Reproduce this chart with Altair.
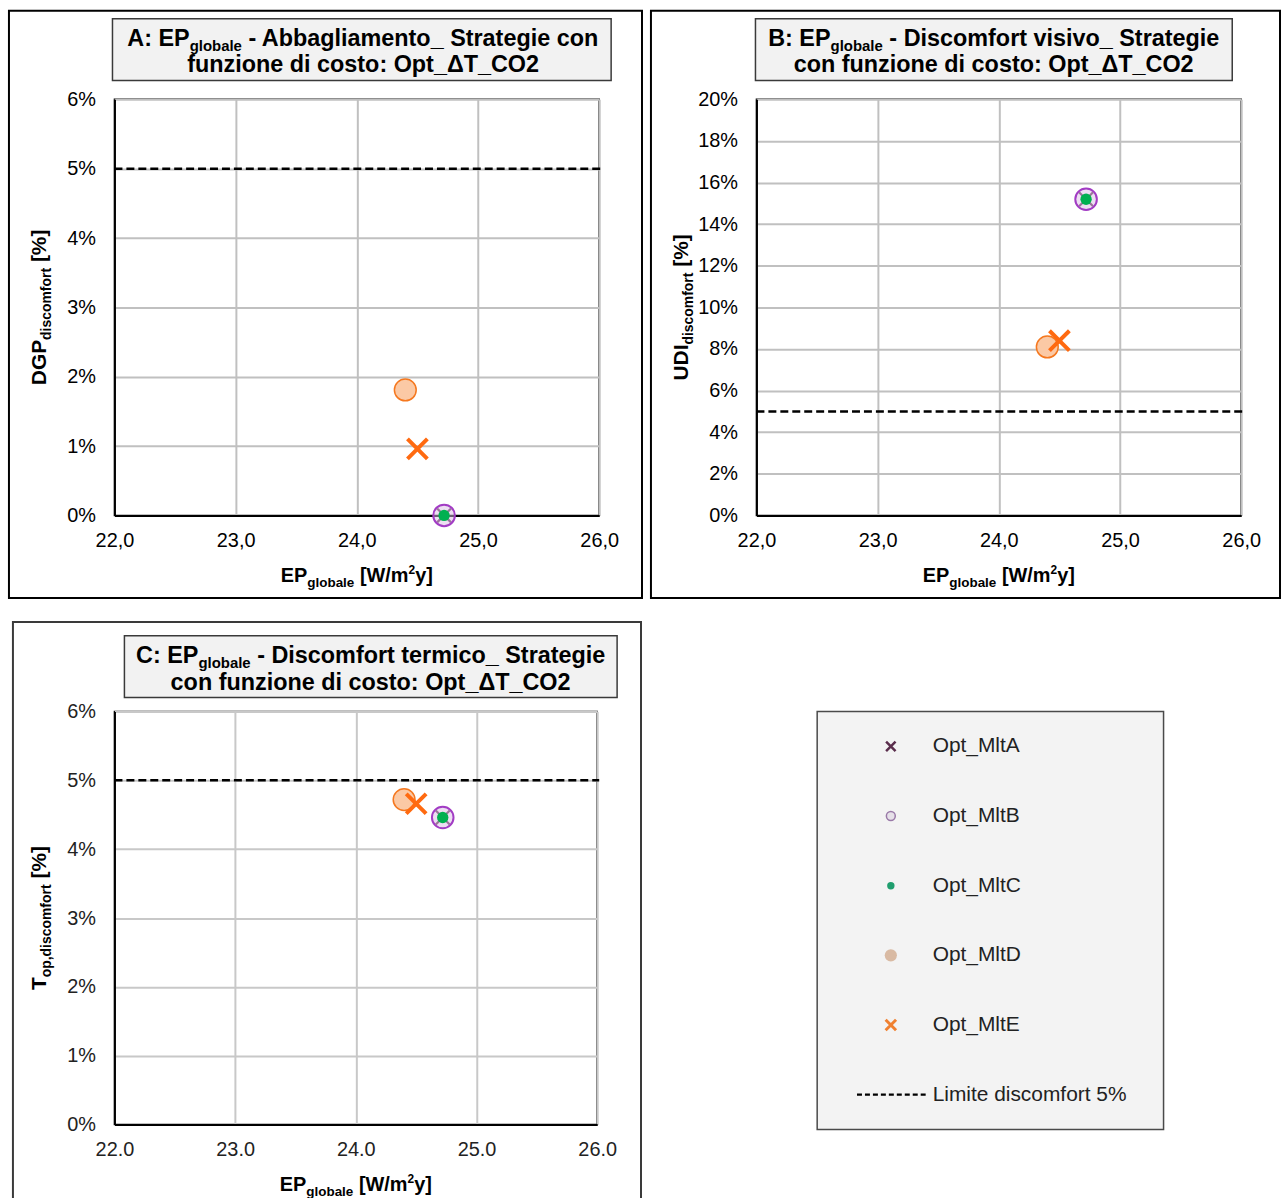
import altair as alt
import pandas as pd

# ---------------- data ----------------
series = ["Opt_MltA", "Opt_MltB", "Opt_MltC", "Opt_MltD", "Opt_MltE"]
ep_globale = [24.72, 24.72, 24.72, 24.40, 24.50]
dgp_discomfort = [0.000, 0.000, 0.000, 0.0181, 0.0096]
udi_discomfort = [0.152, 0.152, 0.152, 0.081, 0.084]
top_discomfort = [0.0446, 0.0446, 0.0446, 0.0472, 0.0466]
limit_label = "Limite discomfort 5%"
limit_value = 0.05
x_ticks = [22.0, 23.0, 24.0, 25.0, 26.0]
y_ticks_6 = [0.00, 0.01, 0.02, 0.03, 0.04, 0.05, 0.06]
y_ticks_20 = [0.00, 0.02, 0.04, 0.06, 0.08, 0.10, 0.12, 0.14, 0.16, 0.18, 0.20]

FONT = "Liberation Sans"

# Arial/Liberation Sans Bold advance widths (1/1000 em) for layout of rich text
BOLD_W = {" ": 278, "-": 333, "_": 556, ":": 333, ",": 278, "[": 333, "]": 333, "/": 278,
          "%": 889, "2": 556, "A": 722, "B": 722, "C": 722, "D": 722, "E": 667, "G": 778,
          "I": 278, "O": 778, "P": 667, "S": 667, "T": 611, "U": 722, "W": 944, "Δ": 722,
          "a": 556, "b": 611, "c": 556, "d": 611, "e": 556, "f": 333, "g": 611, "i": 278,
          "l": 278, "m": 889, "n": 611, "o": 611, "p": 611, "r": 389, "s": 556, "t": 333,
          "u": 611, "v": 556, "y": 556, "z": 500}


def tw(s, size):
    return sum(BOLD_W.get(c, 556) for c in s) * size / 1000.0


dummy = alt.Data(values=[{"k": 0}])

X_PATH = "M-1,-1L1,1M-1,1L1,-1"
STYLE = {
    "Opt_MltA": dict(shape=X_PATH, filled=False, stroke="#5a2d4c", strokeWidth=2.2, size=196, opacity=1),
    "Opt_MltB": dict(shape="circle", filled=True, fill="#dcbde6", fillOpacity=0.5, stroke="#a23cc4",
                     strokeWidth=2, size=470, opacity=1),
    "Opt_MltC": dict(shape="circle", filled=True, fill="#00b050", size=130, strokeWidth=0, opacity=1),
    "Opt_MltD": dict(shape="circle", filled=True, fill="#fbc9a5", stroke="#f5781f", strokeWidth=1.5,
                     size=480, opacity=1),
    "Opt_MltE": dict(shape=X_PATH, filled=False, stroke="#ff6a10", strokeWidth=4, size=400, opacity=1),
}
LEG_STYLE = {
    "Opt_MltA": dict(shape=X_PATH, filled=False, stroke="#5a2d4c", strokeWidth=2.5, size=90, opacity=1),
    "Opt_MltB": dict(shape="circle", filled=True, fill="#e6e0e8", stroke="#9a7aa8", strokeWidth=1.5,
                     size=80, opacity=1),
    "Opt_MltC": dict(shape="circle", filled=True, fill="#1f9e6e", size=55, strokeWidth=0, opacity=1),
    "Opt_MltD": dict(shape="circle", filled=True, fill="#d6b49a", size=150, strokeWidth=0, opacity=0.9),
    "Opt_MltE": dict(shape=X_PATH, filled=False, stroke="#f08030", strokeWidth=3, size=110, opacity=1),
}


def rich_text(segs, x, y, center=True, angle=0, color="black"):
    # Vega trims whitespace from text, so leading spaces become explicit offsets
    total = sum(tw(t, s) for t, s, _ in segs)
    off = -total / 2.0 if center else 0.0
    out = []
    for t, s, d in segs:
        stripped = t.lstrip(" ")
        off += tw(t[: len(t) - len(stripped)], s)
        out.append(
            alt.Chart(dummy).mark_text(align="left", baseline="alphabetic", angle=angle, dx=off, dy=d,
                                       font=FONT, fontSize=s, fontWeight="bold", color=color)
            .encode(x=alt.value(x), y=alt.value(y), text=alt.value(stripped))
        )
        off += tw(stripped, s)
    return out


def rect(x1, x2, y1, y2, **kw):
    return alt.Chart(dummy).mark_rect(**kw).encode(
        x=alt.value(x1), x2=alt.value(x2), y=alt.value(y1), y2=alt.value(y2))


def scatter_panel(vals, yticks, ymax, W, H, comma, title_box, line1, line2, title_cx, ytitle,
                  frame, frame_color, spacer_left=None, grid_color="#c0c0c0", label_color="black"):
    df = pd.DataFrame({"series": series, "ep": ep_globale, "val": vals})
    if comma:
        lab = "replace(format(datum.value, '.1f'), '.', ',')"
    else:
        lab = "format(datum.value, '.1f')"
    xaxis = alt.Axis(values=x_ticks, labelExpr=lab, title=None, ticks=False, tickSize=0,
                     labelFlush=False, labelPadding=15, labelFontSize=20, labelFont=FONT,
                     labelColor=label_color, domainColor="black", domainWidth=2,
                     grid=True, gridColor=grid_color, gridWidth=2)
    yaxis = alt.Axis(values=yticks, format=".0%", title=None, ticks=False, tickSize=0,
                     labelPadding=19, labelFontSize=20, labelFont=FONT, labelColor=label_color,
                     domainColor="black", domainWidth=2, grid=True, gridColor=grid_color, gridWidth=2)
    xs = alt.Scale(domain=[22, 26], nice=False, zero=False)
    ys = alt.Scale(domain=[0, ymax], nice=False)
    X = alt.X("ep:Q", scale=xs, axis=xaxis)
    Y = alt.Y("val:Q", scale=ys, axis=yaxis)

    layers = []
    if spacer_left is not None:
        layers.append(rect(spacer_left, spacer_left + 1, 0, 1, fill="white"))
    layers.append(rect(frame[0], frame[1], frame[2], frame[3], fillOpacity=0,
                       stroke=frame_color, strokeWidth=2))
    layers.append(rect(title_box[0], title_box[1], title_box[2], title_box[3],
                       fill="#f2f2f2", stroke="#3a3a3a", strokeWidth=1.5))
    layers += rich_text(line1, title_cx, title_box[2] + 27)
    layers += rich_text(line2, title_cx, title_box[2] + 54)
    lim = pd.DataFrame({"val": [limit_value]})
    layers.append(
        alt.Chart(lim).mark_rule(strokeDash=[8, 4], strokeWidth=2.5, color="black")
        .encode(x=alt.value(0), x2=alt.value(W + 2), y=Y)
    )
    for s in series:
        layers.append(
            alt.Chart(df).transform_filter(alt.datum.series == s)
            .mark_point(**STYLE[s]).encode(x=X, y=Y)
        )
    layers += rich_text(ytitle, -69, H / 2.0, angle=270)
    layers += rich_text([("EP", 20, 0), ("globale", 13.5, 5), (" [W/m", 20, 0), ("2", 12, -8),
                         ("y]", 20, 0)], W / 2.0, H + 67)
    return alt.layer(*layers).properties(
        width=W, height=H, view=alt.ViewBackground(stroke="black", strokeWidth=1.5))


TS, SS = 23.5, 15  # title font sizes
panel_a = scatter_panel(
    dgp_discomfort, y_ticks_6, 0.06, 487, 418, True,
    (-2, 499, -81, -19),
    [("A: EP", TS, 0), ("globale", SS, 5), (" - Abbagliamento_ Strategie con", TS, 0)],
    [("funzione di costo: Opt_ΔT_CO2", TS, 0)], 250,
    [("DGP", 21, 0), ("discomfort", 14, 5), (" [%]", 21, 0)],
    (-106, 530, -89, 501), "black")

panel_b = scatter_panel(
    udi_discomfort, y_ticks_20, 0.20, 487, 418, True,
    (-1, 478, -81, -19),
    [("B: EP", TS, 0), ("globale", SS, 5), (" - Discomfort visivo_ Strategie", TS, 0)],
    [("con funzione di costo: Opt_ΔT_CO2", TS, 0)], 238.5,
    [("UDI", 21, 0), ("discomfort", 14, 5), (" [%]", 21, 0)],
    (-106, 526, -89, 501), "black")

panel_c = scatter_panel(
    top_discomfort, y_ticks_6, 0.06, 485, 415, False,
    (10, 505, -76, -14),
    [("C: EP", TS, 0), ("globale", SS, 5), (" - Discomfort termico_ Strategie", TS, 0)],
    [("con funzione di costo: Opt_ΔT_CO2", TS, 0)], 257.5,
    [("T", 21, 0), ("op,discomfort", 14, 5), (" [%]", 21, 0)],
    (-102, 529, -90, 496), "#3a3a3a", spacer_left=-114, grid_color="#c8c8c8", label_color="#222222")

# ---------------- legend panel ----------------
leg_labels = series + [limit_label]
leg_df = pd.DataFrame({"label": leg_labels})
LY = alt.Y("label:N", sort=leg_labels, scale=alt.Scale(type="point", padding=0.5), axis=None)
leg_layers = [rect(10, 11, -91, -90, fill="white")]
for s in series:
    leg_layers.append(
        alt.Chart(leg_df).transform_filter(alt.datum.label == s)
        .mark_point(**LEG_STYLE[s]).encode(x=alt.value(74), y=LY)
    )
leg_layers.append(
    alt.Chart(leg_df).transform_filter(alt.datum.label == limit_label)
    .mark_rule(strokeDash=[5, 3], strokeWidth=2.2, color="black")
    .encode(x=alt.value(40), x2=alt.value(111), y=LY)
)
leg_layers.append(
    alt.Chart(leg_df).mark_text(align="left", baseline="middle", font=FONT, fontSize=21, color="#222222")
    .encode(x=alt.value(116), y=LY, text="label:N")
)
legend_panel = alt.layer(*leg_layers).properties(
    width=348, height=420, view=alt.ViewBackground(fill="#f3f3f3", stroke="#4a4a4a", strokeWidth=1.5))

row1 = alt.hconcat(panel_a, panel_b, spacing=5)
row2 = alt.hconcat(panel_c, legend_panel, spacing=174)
chart = alt.concat(row1, row2, columns=1, align="none", spacing=20).properties(
    padding={"left": 0, "top": 6, "right": 0, "bottom": 0}, background="white"
)

chart.save("out.html", embed_options={"renderer": "svg", "actions": False})
